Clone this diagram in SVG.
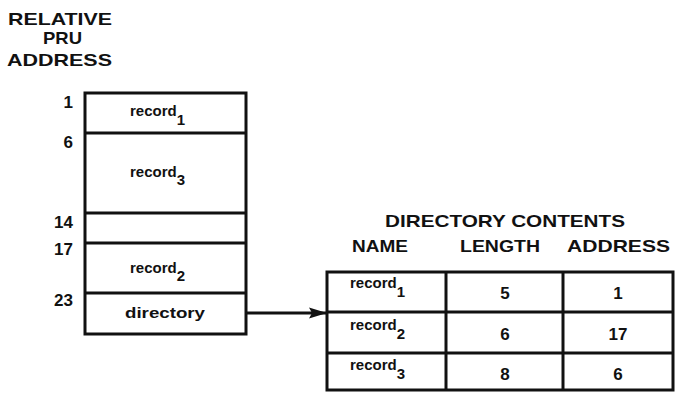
<svg xmlns="http://www.w3.org/2000/svg" width="675" height="393" viewBox="0 0 675 393">
<defs>
<style>
text{font-family:"Liberation Sans",Arial,sans-serif;font-weight:bold;fill:#111}
.h{font-size:17px}
.n{font-size:17px;text-anchor:end}
.r{font-size:15px}
.s{font-size:15px}
.c{font-size:17px;text-anchor:middle}
.box{fill:none;stroke:#111;stroke-width:3}
.ln{stroke:#111;stroke-width:3}
</style>
<marker id="ah" markerWidth="18" markerHeight="12" refX="18" refY="6" orient="auto" markerUnits="userSpaceOnUse">
<path d="M0,0.5 L18,6 L0,11.5 L3,6 Z" fill="#111"/>
</marker>
</defs>
<g id="heading">
<text class="h" x="8" y="25" textLength="104" lengthAdjust="spacingAndGlyphs">RELATIVE</text>
<text class="h" x="43" y="44" textLength="39" lengthAdjust="spacingAndGlyphs">PRU</text>
<text class="h" x="7" y="66" textLength="105" lengthAdjust="spacingAndGlyphs">ADDRESS</text>
</g>
<g id="addresses">
<text class="n" x="73" y="108">1</text>
<text class="n" x="73" y="148">6</text>
<text class="n" x="73" y="228">14</text>
<text class="n" x="73" y="255">17</text>
<text class="n" x="73" y="306">23</text>
</g>
<g id="file">
<rect class="box" x="85" y="93" width="161" height="241"/>
<line class="ln" x1="85" y1="133" x2="246" y2="133"/>
<line class="ln" x1="85" y1="213" x2="246" y2="213"/>
<line class="ln" x1="85" y1="243" x2="246" y2="243"/>
<line class="ln" x1="85" y1="293" x2="246" y2="293"/>
</g>
<g id="record1"><text class="r" x="130" y="116">record<tspan class="s" dy="9">1</tspan></text></g>
<g id="record3"><text class="r" x="130" y="177">record<tspan class="s" dy="8">3</tspan></text></g>
<g id="record2"><text class="r" x="130" y="273">record<tspan class="s" dy="8">2</tspan></text></g>
<g id="directory"><text class="r" x="125" y="318" textLength="80" lengthAdjust="spacingAndGlyphs">directory</text></g>
<g id="connectors">
<line class="ln" x1="246" y1="313" x2="327" y2="313" marker-end="url(#ah)"/>
</g>
<g id="dir-heading">
<text class="h" x="385" y="227" textLength="240" lengthAdjust="spacingAndGlyphs">DIRECTORY CONTENTS</text>
<text class="h" x="352" y="252" textLength="56" lengthAdjust="spacingAndGlyphs">NAME</text>
<text class="h" x="460" y="252" textLength="80" lengthAdjust="spacingAndGlyphs">LENGTH</text>
<text class="h" x="567" y="252" textLength="103" lengthAdjust="spacingAndGlyphs">ADDRESS</text>
</g>
<g id="table">
<rect class="box" x="327" y="272" width="346" height="118"/>
<line class="ln" x1="327" y1="312" x2="673" y2="312"/>
<line class="ln" x1="327" y1="353" x2="673" y2="353"/>
<line class="ln" x1="446" y1="272" x2="446" y2="390"/>
<line class="ln" x1="563" y1="272" x2="563" y2="390"/>
</g>
<g id="row1">
<text class="r" x="350" y="288">record<tspan class="s" dy="9">1</tspan></text>
<text class="c" x="505" y="299">5</text>
<text class="c" x="618" y="299">1</text>
</g>
<g id="row2">
<text class="r" x="350" y="330">record<tspan class="s" dy="9">2</tspan></text>
<text class="c" x="505" y="340">6</text>
<text class="c" x="618" y="340">17</text>
</g>
<g id="row3">
<text class="r" x="350" y="370">record<tspan class="s" dy="9">3</tspan></text>
<text class="c" x="505" y="380">8</text>
<text class="c" x="618" y="380">6</text>
</g>
</svg>
